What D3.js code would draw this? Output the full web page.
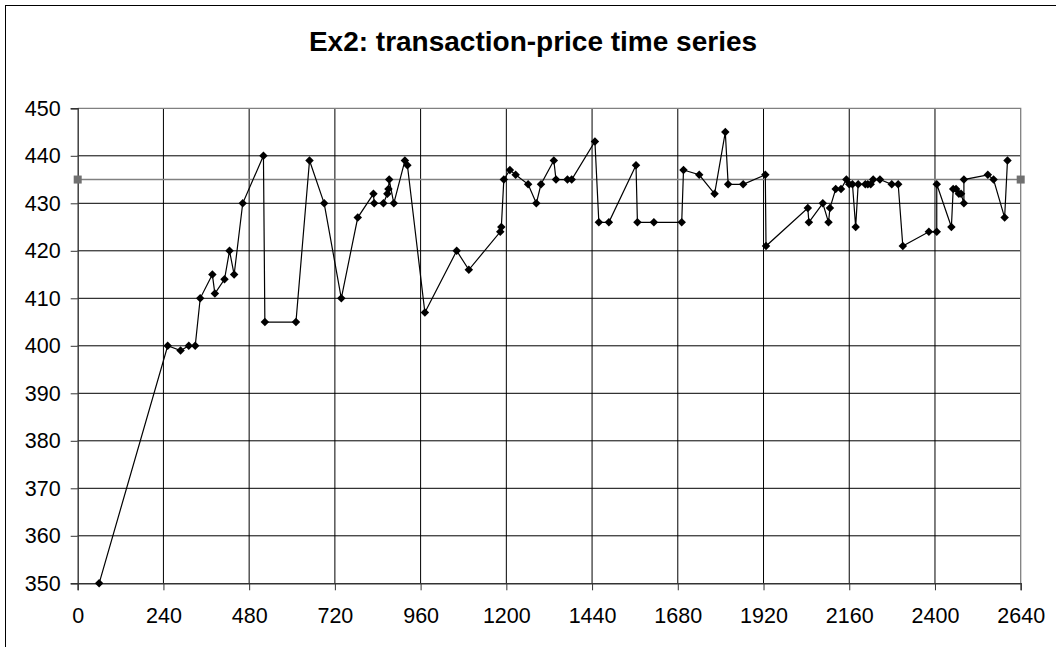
<!DOCTYPE html>
<html>
<head>
<meta charset="utf-8">
<script src="https://cdn.jsdelivr.net/npm/d3@7"></script>
<style>
  html, body { margin: 0; padding: 0; background: #fff; }
  svg { display: block; }
  text { font-family: "Liberation Sans", Arial, sans-serif; fill: #000; }
</style>
</head>
<body>
<svg id="chart" width="1056" height="647"></svg>
<script>
// transaction times and prices
const times = [60, 252, 288, 311, 329, 343, 377, 384, 411, 425, 438, 462, 520, 524, 611, 649,
  690, 738, 784, 828, 830, 856, 867, 870, 872, 885, 916, 923, 972, 1061, 1095, 1183, 1186,
  1193, 1210, 1226, 1261, 1284, 1297, 1333, 1339, 1371, 1383, 1448, 1459, 1487, 1563, 1567,
  1613, 1691, 1696, 1740, 1783, 1813, 1821, 1863, 1925, 1927, 2044, 2047, 2086, 2102, 2106,
  2122, 2137, 2152, 2160, 2169, 2178, 2185, 2205, 2212, 2220, 2227, 2246, 2279, 2297, 2310,
  2383, 2405, 2405, 2446, 2451, 2459, 2467, 2473, 2481, 2481, 2548, 2564, 2595, 2603];
const prices = [350, 400, 399, 400, 400, 410, 415, 411, 414, 420, 415, 430, 440, 405, 405, 439,
  430, 410, 427, 432, 430, 430, 432, 433, 435, 430, 439, 438, 407, 420, 416, 424, 425,
  435, 437, 436, 434, 430, 434, 439, 435, 435, 435, 443, 426, 426, 438, 426,
  426, 426, 437, 436, 432, 445, 434, 434, 436, 421, 429, 426, 430, 426, 429,
  433, 433, 435, 434, 434, 425, 434, 434, 434, 434, 435, 435, 434, 434, 421,
  424, 424, 434, 425, 433, 433, 432, 432, 430, 435, 436, 435, 427, 439];

// equilibrium reference line (two end points)
const refTimes = [0, 2640];
const refPrices = [435, 435];

const xTicks = [0, 240, 480, 720, 960, 1200, 1440, 1680, 1920, 2160, 2400, 2640];
const yTicks = [350, 360, 370, 380, 390, 400, 410, 420, 430, 440, 450];

const svg = d3.select('#chart');
const plotLeft = 77.7, plotRight = 1020.7, plotTop = 108.3, plotBottom = 583.3;

const x = d3.scaleLinear().domain([0, 2640]).range([plotLeft, plotRight]);
const y = d3.scaleLinear().domain([350, 450]).range([plotBottom, plotTop]);

// outer chart frame
svg.append('rect')
  .attr('x', 5.5).attr('y', 5.5)
  .attr('width', 1100).attr('height', 700)
  .attr('fill', '#fff').attr('stroke', '#000').attr('stroke-width', 1);

// title
svg.append('text')
  .attr('x', 533).attr('y', 51)
  .attr('text-anchor', 'middle')
  .attr('font-size', 28).attr('font-weight', 'bold')
  .text('Ex2: transaction-price time series');

// gridlines
svg.append('g')
  .selectAll('line')
  .data(yTicks.slice(1, -1))
  .join('line')
  .attr('x1', plotLeft).attr('x2', plotRight)
  .attr('y1', d => y(d)).attr('y2', d => y(d))
  .attr('stroke', '#000').attr('stroke-width', 1);

svg.append('g')
  .selectAll('line')
  .data(xTicks.slice(1, -1))
  .join('line')
  .attr('y1', plotTop).attr('y2', plotBottom)
  .attr('x1', d => x(d)).attr('x2', d => x(d))
  .attr('stroke', '#000').attr('stroke-width', 1);

// plot area border (top + right)
svg.append('path')
  .attr('d', `M${plotLeft},${plotTop}H${plotRight}V${plotBottom}`)
  .attr('fill', 'none').attr('stroke', '#808080').attr('stroke-width', 1.3);

// axes
const yAxis = d3.axisLeft(y).tickValues(yTicks).tickSize(7).tickPadding(10).tickFormat(d3.format('d'));
const xAxis = d3.axisBottom(x).tickValues(xTicks).tickSize(7).tickPadding(17).tickFormat(d3.format('d'));

const gy = svg.append('g').attr('transform', `translate(${plotLeft},0)`).call(yAxis);
const gx = svg.append('g').attr('transform', `translate(0,${plotBottom})`).call(xAxis);

[gy, gx].forEach(g => {
  g.select('.domain').attr('stroke', '#333').attr('stroke-width', 1.4);
  g.selectAll('.tick line').attr('stroke', '#333').attr('stroke-width', 1);
  g.selectAll('.tick text')
    .attr('font-family', '"Liberation Sans", Arial, sans-serif')
    .attr('font-size', 21.5).attr('fill', '#000');
});

// reference line at 435
const refData = refTimes.map((t, i) => ({ t, p: refPrices[i] }));
svg.append('path')
  .datum(refData)
  .attr('fill', 'none').attr('stroke', '#808080').attr('stroke-width', 1.5)
  .attr('d', d3.line().x(d => x(d.t)).y(d => y(d.p)));
svg.append('g')
  .selectAll('rect')
  .data(refData)
  .join('rect')
  .attr('x', d => x(d.t) - 4).attr('y', d => y(d.p) - 4)
  .attr('width', 8).attr('height', 8)
  .attr('fill', '#707070');

// price series
const series = times.map((t, i) => ({ t, p: prices[i] }));
svg.append('path')
  .datum(series)
  .attr('fill', 'none').attr('stroke', '#000').attr('stroke-width', 1.2)
  .attr('d', d3.line().x(d => x(d.t)).y(d => y(d.p)));

const diamond = d3.symbol(d3.symbolSquare, 36);
svg.append('g')
  .selectAll('path')
  .data(series)
  .join('path')
  .attr('d', diamond)
  .attr('transform', d => `translate(${x(d.t)},${y(d.p)}) rotate(45)`)
  .attr('fill', '#000');
</script>
</body>
</html>
